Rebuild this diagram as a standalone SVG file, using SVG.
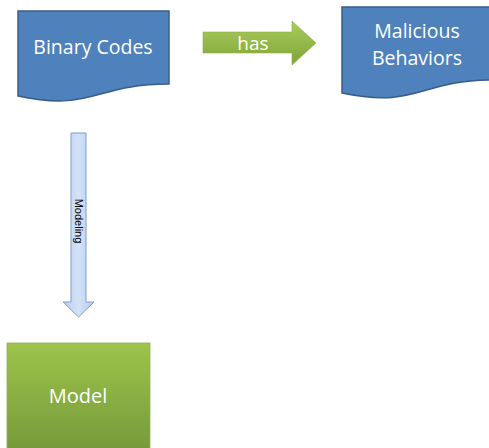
<svg xmlns="http://www.w3.org/2000/svg" width="489" height="448" viewBox="0 0 489 448">
  <style>
    .doc { fill: #4f81bd; stroke: #385d8a; stroke-width: 1.5; }
    .lbl { font-family: "Open Sans", "Liberation Sans", sans-serif; fill: #ffffff; text-anchor: middle; }
  </style>
  <defs>
    <linearGradient id="greenArrow" x1="0" y1="0" x2="0" y2="1">
      <stop offset="0" stop-color="#a9cc5c"/>
      <stop offset="1" stop-color="#7fa437"/>
    </linearGradient>
    <linearGradient id="greenBox" x1="0" y1="0" x2="0" y2="1">
      <stop offset="0" stop-color="#9dc44b"/>
      <stop offset="1" stop-color="#75993a"/>
    </linearGradient>
    <linearGradient id="blueArrow" x1="0" y1="0" x2="1" y2="0">
      <stop offset="0" stop-color="#b6cdf0"/>
      <stop offset="0.5" stop-color="#d4e2f7"/>
      <stop offset="1" stop-color="#b3cbef"/>
    </linearGradient>
  </defs>

  <g id="binary-codes">
    <path class="doc" d="M18,11 H169 V84 C93.5,84 93.5,112 18,96 Z"/>
    <text class="lbl" x="93" y="54" font-size="19.5">Binary Codes</text>
  </g>

  <g id="malicious-behaviors">
    <path class="doc" d="M342,7 H494 V80 C418,80 418,109 342,93 Z"/>
    <text class="lbl" x="417" y="38" font-size="19.5">Malicious</text>
    <text class="lbl" x="417" y="65" font-size="19.5">Behaviors</text>
  </g>

  <g id="model">
    <rect x="7" y="343" width="143" height="110" fill="url(#greenBox)" stroke="#8fb24c" stroke-width="0.8"/>
    <text class="lbl" x="78" y="403" font-size="20">Model</text>
  </g>

  <g id="connectors">
    <g id="has-arrow">
      <path d="M203,32 H292 V21 L316,43 L292,65 V53 H203 Z" fill="url(#greenArrow)" stroke="#8fb04a" stroke-width="0.6"/>
      <text class="lbl" x="253" y="50" font-size="19">has</text>
    </g>
    <g id="modeling-arrow">
      <path d="M71,133 H86 V302 H94 L78.5,317 L63,302 H71 Z" fill="url(#blueArrow)" stroke="#7f9fcf" stroke-width="1"/>
      <text x="0" y="0" transform="translate(74.5,221) rotate(90)" font-family="'Liberation Sans', sans-serif" font-size="11" fill="#000000" text-anchor="middle">Modeling</text>
    </g>
  </g>
</svg>
